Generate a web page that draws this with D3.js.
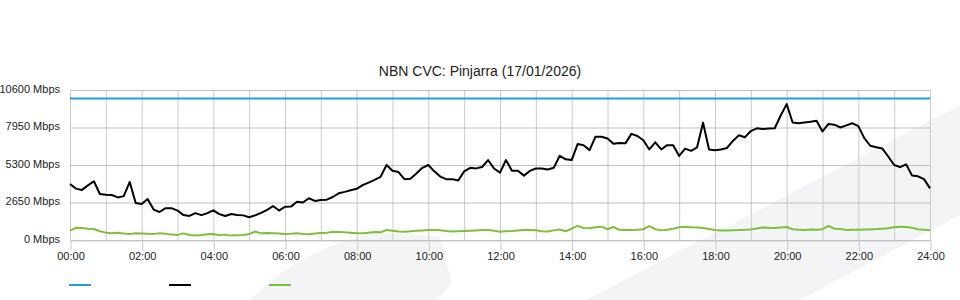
<!DOCTYPE html>
<html>
<head>
  <meta charset="utf-8">
  <script src="https://d3js.org/d3.v7.min.js"></script>
  <style>
    body { margin: 0; background: #fff; }
    svg text { font-family: "Liberation Sans", Arial, sans-serif; fill: #222; }
  </style>
</head>
<body>
<script>
  // samples every 10 minutes, 00:00 .. 24:00
  var minutes = d3.range(0, 1441, 10);

  // CVC capacity (Mbps)
  var capacity = minutes.map(function () { return 10000; });

  // download traffic (Mbps)
  var download = [
    3960, 3630, 3540, 3860, 4150, 3250, 3200, 3180, 3010, 3100,
    4100, 2620, 2540, 2900, 2150, 1980, 2250, 2250, 2080, 1760,
    1700, 1900, 1760, 1900, 2100, 1830, 1700, 1840, 1770, 1740,
    1610, 1740, 1920, 2130, 2400, 2080, 2350, 2360, 2700, 2650,
    2950, 2760, 2830, 2850, 3040, 3300, 3400, 3510, 3620, 3880,
    4060, 4250, 4460, 5300, 4900, 4800, 4300, 4320, 4700, 5100,
    5300, 4850, 4480, 4300, 4300, 4200, 4850, 5100, 5060, 5160,
    5650, 5050, 4760, 5650, 4900, 4900, 4550, 4880, 5050, 5050,
    4980, 5100, 5950, 5700, 5650, 6780, 6700, 6350, 7300, 7300,
    7170, 6800, 6860, 6830, 7500, 7350, 7050, 6400, 6900, 6400,
    6700, 6700, 5940, 6460, 6300, 6550, 8290, 6400, 6350, 6400,
    6500, 7000, 7400, 7260, 7700, 7890, 7850, 7880, 7900, 8800,
    9600, 8300, 8250, 8310, 8350, 8430, 7670, 8200, 8150, 7950,
    8100, 8250, 8050, 7200, 6660, 6550, 6470, 5900, 5300, 5150,
    5350, 4550, 4500, 4300, 3650
  ];

  // upload traffic (Mbps)
  var upload = [
    660, 860, 840, 790, 780, 620, 520, 480, 520, 460,
    430, 480, 460, 440, 420, 470, 440, 380, 360, 470,
    350, 320, 350, 400, 420, 340, 380, 310, 330, 350,
    420, 600, 470, 490, 480, 460, 430, 450, 480, 420,
    400, 460, 490, 520, 590, 570, 540, 520, 480, 470,
    520, 560, 540, 710, 660, 600, 590, 620, 660, 680,
    700, 710, 690, 640, 600, 620, 640, 660, 680, 700,
    710, 650, 590, 620, 640, 670, 700, 710, 690, 620,
    600, 680, 740, 620, 800, 1000, 850, 830, 900, 940,
    760, 920, 720, 700, 710, 720, 760, 980, 760, 680,
    720, 790, 900, 930, 900, 880, 850, 780, 700, 680,
    680, 690, 700, 720, 750, 820, 880, 860, 850, 880,
    920, 760, 730, 700, 750, 720, 760, 990, 800, 780,
    700, 720, 730, 740, 750, 770, 800, 830, 900, 940,
    920, 860, 760, 720, 690
  ];

  var yTicks = [0, 2650, 5300, 7950, 10600];
  var xTicks = d3.range(0, 1441, 120);
  var seriesColors = ["#1ba1e2", "#000000", "#7dc03a"];
  var seriesNames = ["", "", ""];

  var width = 960, height = 300;
  var plotLeft = 70, plotRight = 930, plotTop = 90, plotBottom = 240;

  var svg = d3.select("body").append("svg")
    .attr("width", width)
    .attr("height", height);

  // faint background decoration
  var bg = svg.append("g").attr("fill", "#f3f4f6");
  bg.append("path").attr("d", "M250,300 Q300,250 372,233 L440,236 L452,283 L437,300 Z");
  bg.append("path").attr("d", "M586,300 L960,105 L960,215 L800,300 Z");

  var x = d3.scaleLinear().domain([0, 1440]).range([plotLeft, plotRight]);
  var y = d3.scaleLinear().domain([0, 10600]).range([plotBottom, plotTop]);

  var fmtTime = function (m) {
    return d3.format("02d")(Math.floor(m / 60)) + ":" + d3.format("02d")(m % 60);
  };

  // grid
  var grid = svg.append("g").attr("stroke-width", 1);
  grid.selectAll("line.v")
    .data(d3.range(0, 1441, 60))
    .enter().append("line")
    .attr("class", "v")
    .attr("stroke", "#cacaca")
    .attr("x1", function (d) { return x(d) + 0.5; })
    .attr("x2", function (d) { return x(d) + 0.5; })
    .attr("y1", plotTop + 0.5)
    .attr("y2", plotBottom + 0.5);
  grid.selectAll("line.h")
    .data(yTicks)
    .enter().append("line")
    .attr("class", "h")
    .attr("stroke", "#bfbfbf")
    .attr("x1", plotLeft + 0.5)
    .attr("x2", plotRight + 0.5)
    .attr("y1", function (d) { return y(d) + 0.5; })
    .attr("y2", function (d) { return y(d) + 0.5; });

  // x axis
  var xAxis = svg.append("g")
    .attr("transform", "translate(0.5," + (plotBottom + 0.5) + ")")
    .call(d3.axisBottom(x).tickValues(xTicks).tickFormat(fmtTime).tickSize(10).tickSizeOuter(0));
  xAxis.select(".domain").attr("stroke", "#c8c8c8");
  xAxis.selectAll(".tick line").attr("stroke", "#c8c8c8");
  xAxis.selectAll("text").attr("font-size", "11px").attr("dy", "0.9em").attr("y", 10);

  // y axis labels
  var yAxis = svg.append("g")
    .attr("transform", "translate(" + (plotLeft - 10) + ",-1.5)")
    .call(d3.axisLeft(y).tickValues(yTicks).tickFormat(function (d) { return d + " Mbps"; }).tickSize(0));
  yAxis.select(".domain").remove();
  yAxis.selectAll("text").attr("font-size", "11px").attr("x", 0);

  // series
  var line = d3.line()
    .x(function (d, i) { return x(minutes[i]); })
    .y(function (d) { return y(d); });

  [capacity, download, upload].forEach(function (s, k) {
    svg.append("path")
      .datum(s)
      .attr("fill", "none")
      .attr("stroke", seriesColors[k])
      .attr("stroke-width", 2)
      .attr("stroke-linejoin", "round")
      .attr("d", line);
  });

  // title
  svg.append("text")
    .attr("x", 480)
    .attr("y", 76)
    .attr("text-anchor", "middle")
    .attr("font-size", "14px")
    .text("NBN CVC: Pinjarra (17/01/2026)");

  // legend (no labels)
  var legend = svg.selectAll("g.legend")
    .data(seriesColors)
    .enter().append("g")
    .attr("class", "legend")
    .attr("transform", function (d, i) { return "translate(" + (69 + i * 100) + ",285)"; });
  legend.append("line")
    .attr("x1", 0).attr("x2", 22)
    .attr("stroke", function (d) { return d; })
    .attr("stroke-width", 2);
  legend.append("text")
    .attr("x", 26).attr("dy", "0.35em")
    .attr("font-size", "11px")
    .text(function (d, i) { return seriesNames[i]; });
</script>
</body>
</html>
